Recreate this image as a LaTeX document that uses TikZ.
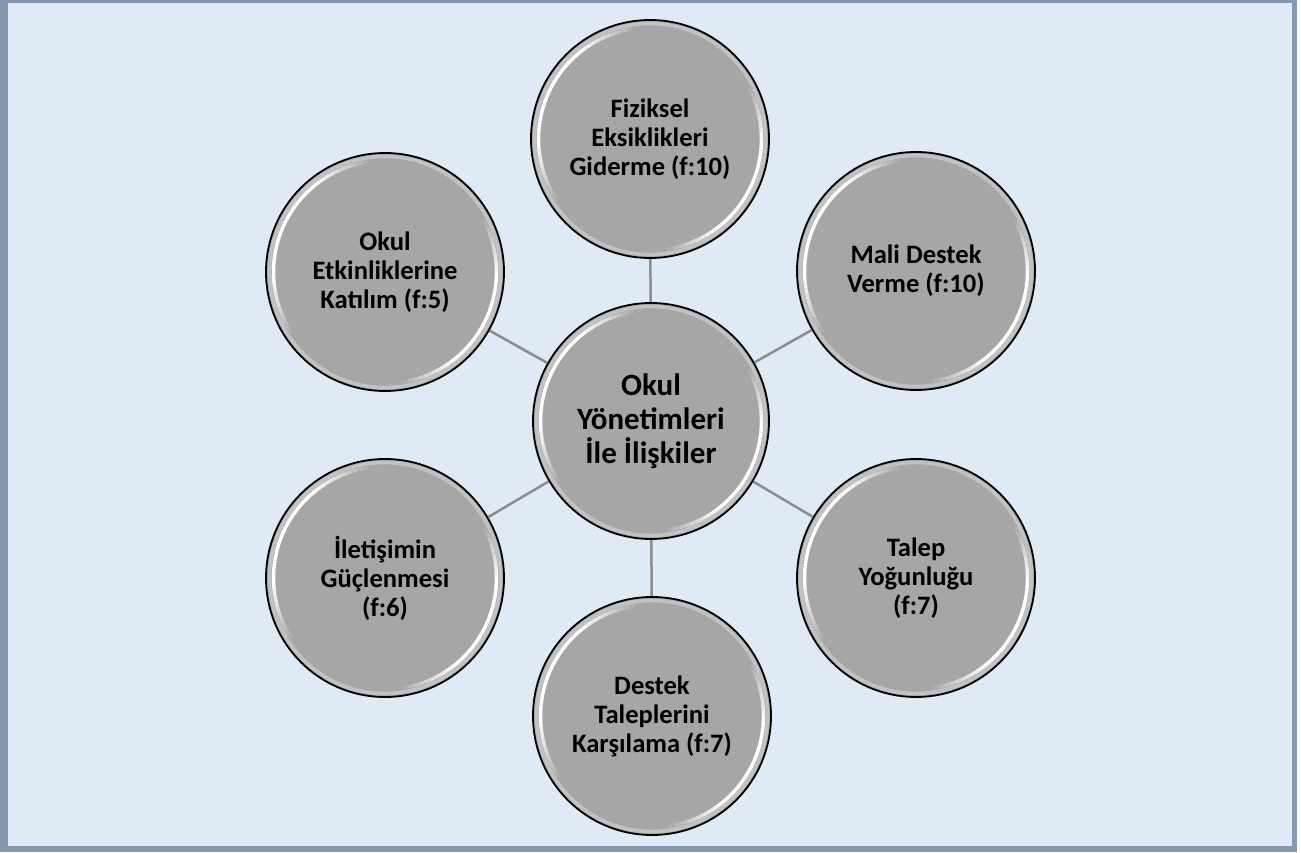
\documentclass[tikz,border=0pt]{standalone}
\usepackage{fontspec}
\setmainfont{Carlito}
\definecolor{bgblue}{HTML}{DFEAF6}
\definecolor{frameblue}{HTML}{8497B0}
\definecolor{ballgray}{HTML}{A6A6A6}
\definecolor{rimgray}{HTML}{C2C2C2}
\definecolor{linkgray}{HTML}{8C8C8C}
\tikzset{
  bubble/.style={circle, draw=black, line width=1.8pt, fill=ballgray,
    minimum size=238pt, inner sep=0pt, align=center,
    font=\bfseries\fontsize{26.6}{29}\selectfont},
  hub/.style={bubble, minimum size=236pt, font=\bfseries\fontsize{31}{34}\selectfont},
  link/.style={draw=linkgray, line width=2.5pt},
}
\newcommand\glossring[2]{%
  \pgfmathsetmacro\rr{#2-3.5}%
  \draw[rimgray, line width=3.5pt] (#1.center) circle[radius=\rr pt];
  \pgfmathsetmacro\rw{#2-7.5}%
  \foreach \a in {96,99,...,210} {
    \pgfmathsetmacro\op{min(1,1.3*sin((\a-96)/117*180))}
    \draw[white, line width=3.5pt, opacity=\op] ([shift={(\a:\rw pt)}]#1.center) arc[start angle=\a, end angle=\a+3, radius=\rw pt];
  }
  \foreach \a in {-84,-81,...,24} {
    \pgfmathsetmacro\op{min(1,1.3*sin((\a+84)/111*180))}
    \draw[white, line width=3.5pt, opacity=\op] ([shift={(\a:\rw pt)}]#1.center) arc[start angle=\a, end angle=\a+3, radius=\rw pt];
  }
}
\begin{document}
\begin{tikzpicture}[x=1pt,y=1pt]
\useasboundingbox (0,0) rectangle (1301,852);
\fill[white] (0,0) rectangle (1301,852);
\fill[frameblue] (0,0) rectangle (1297,852);
\fill[bgblue] (8,6) rectangle (1292,849);
\node[hub] (hub) at (651,431) {Okul\\Yönetimleri\\İle İlişkiler};
\node[bubble] (top) at (650,713) {Fiziksel\\Eksiklikleri\\Giderme (f:10)};
\node[bubble] (ur) at (916,581) {Mali Destek\\Verme (f:10)};
\node[bubble] (lr) at (916,274) {Talep\\Yoğunluğu\\(f:7)};
\node[bubble] (bot) at (652,136) {Destek\\Taleplerini\\Karşılama (f:7)};
\node[bubble] (ll) at (385,274) {İletişimin\\Güçlenmesi\\(f:6)};
\node[bubble] (ul) at (385,580) {Okul\\Etkinliklerine\\Katılım (f:5)};
\foreach \n in {top,ur,lr,bot,ll,ul} {\draw[link] (hub) -- (\n);}
\glossring{hub}{118}
\foreach \n in {top,ur,lr,bot,ll,ul} {\glossring{\n}{119}}
\end{tikzpicture}
\end{document}
